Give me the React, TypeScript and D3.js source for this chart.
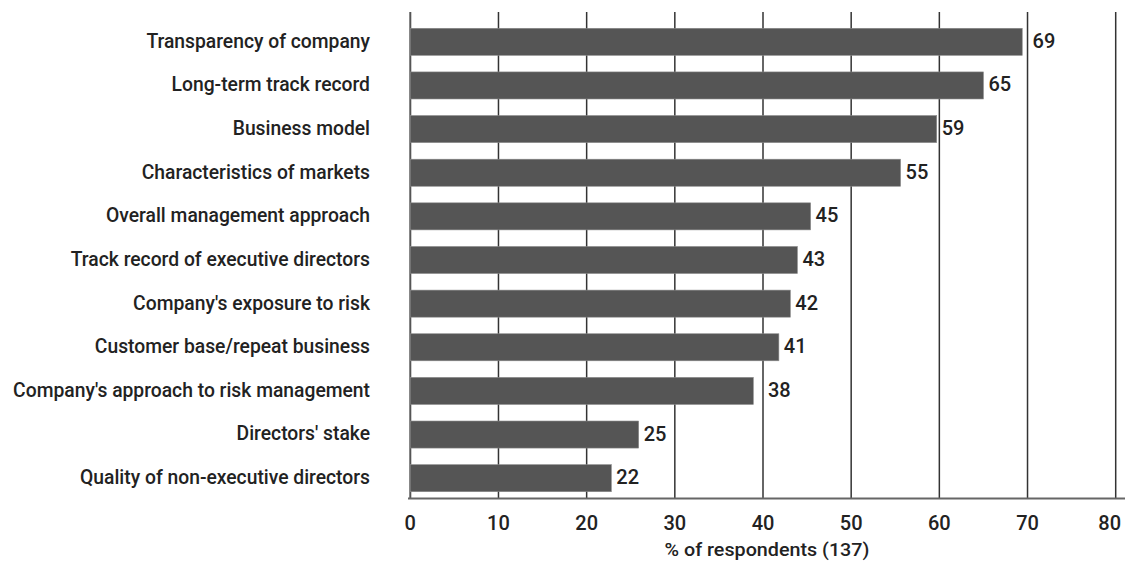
import { useEffect, useRef } from 'react';
import * as d3 from 'd3';

const categories = [
  'Transparency of company',
  'Long-term track record',
  'Business model',
  'Characteristics of markets',
  'Overall management approach',
  'Track record of executive directors',
  "Company's exposure to risk",
  'Customer base/repeat business',
  "Company's approach to risk management",
  "Directors' stake",
  'Quality of non-executive directors',
];

// bar lengths (share of 137 respondents)
const values = [69.4, 65.0, 59.7, 55.6, 45.4, 43.9, 43.1, 41.8, 38.9, 25.9, 22.8];
// printed labels
const valueLabels = ['69', '65', '59', '55', '45', '43', '42', '41', '38', '25', '22'];

const xTicks = [0, 10, 20, 30, 40, 50, 60, 70, 80];
const xTitle = '% of respondents (137)';

const FONT = 'Roboto, "Liberation Sans", sans-serif';

export default function App() {
  const svgRef = useRef<SVGSVGElement>(null);
  const width = 1125;
  const height = 562;

  useEffect(() => {
    if (!svgRef.current) return;
    const svg = d3.select(svgRef.current);
    svg.selectAll('*').remove();

    const x = d3.scaleLinear().domain([0, 80]).range([410.3, 1115.7]);
    const y = d3
      .scaleBand<string>()
      .domain(categories)
      .range([20, 500])
      .paddingInner(0.38)
      .paddingOuter(0.19);

    const gridTop = 12;
    const axisY = 498.5;

    // Grid
    svg
      .append('g')
      .selectAll('line')
      .data(xTicks)
      .join('line')
      .attr('x1', (d) => x(d))
      .attr('x2', (d) => x(d))
      .attr('y1', gridTop)
      .attr('y2', axisY)
      .attr('stroke', (d) => (d === 0 ? '#555' : '#333'))
      .attr('stroke-width', (d) => (d === 0 ? 2 : 1.5));

    // Bars
    svg
      .append('g')
      .selectAll('rect')
      .data(values)
      .join('rect')
      .attr('x', x(0))
      .attr('y', (_, i) => y(categories[i])!)
      .attr('width', (d) => x(d) - x(0))
      .attr('height', y.bandwidth())
      .attr('fill', '#555555')
      .attr('stroke', '#8a8a8a')
      .attr('stroke-width', 0.6);

    // Value labels, nudged past gridlines
    svg
      .append('g')
      .selectAll('text')
      .data(values)
      .join('text')
      .attr('x', (d) => {
        let lx = x(d) + 5;
        const w = 20;
        xTicks.forEach((t) => {
          const gx = x(t);
          if (gx >= lx - 2 && gx <= lx + w) lx = gx + 5;
        });
        return lx;
      })
      .attr('y', (_, i) => y(categories[i])! + y.bandwidth() / 2)
      .attr('dy', '0.3em')
      .attr('font-family', FONT)
      .attr('font-weight', 500)
      .attr('font-size', 20)
      .attr('fill', '#222')
      .text((_, i) => valueLabels[i]);

    // Category labels, squeezed to the condensed look of the original
    const catG = svg.append('g');
    const cats = catG
      .selectAll('text')
      .data(categories)
      .join('text')
      .attr('x', 0)
      .attr('y', (d) => y(d)! + y.bandwidth() / 2)
      .attr('dy', '0.28em')
      .attr('text-anchor', 'end')
      .attr('font-family', FONT)
      .attr('font-weight', 500)
      .attr('font-size', 21)
      .attr('fill', '#222')
      .text((d) => d);
    let widest = 1;
    cats.each(function () {
      widest = Math.max(widest, (this as SVGTextElement).getComputedTextLength());
    });
    catG.attr('transform', `translate(370,0) scale(${357 / widest},1)`);

    // X axis line
    svg
      .append('line')
      .attr('x1', 408)
      .attr('x2', width)
      .attr('y1', axisY)
      .attr('y2', axisY)
      .attr('stroke', '#666')
      .attr('stroke-width', 2);

    // Tick labels
    svg
      .append('g')
      .selectAll('text')
      .data(xTicks)
      .join('text')
      .attr('x', (d) => x(d))
      .attr('y', 530)
      .attr('text-anchor', 'middle')
      .attr('font-family', FONT)
      .attr('font-weight', 500)
      .attr('font-size', 20)
      .attr('fill', '#222')
      .text((d) => `${d}`)
      .each(function (d) {
        const t = this as SVGTextElement;
        const w = t.getComputedTextLength();
        if (x(d) + w / 2 > width - 3) {
          d3.select(t).attr('text-anchor', 'end').attr('x', width - 4);
        }
      });

    const titleG = svg.append('g');
    const title = titleG
      .append('text')
      .attr('x', 0)
      .attr('y', 556)
      .attr('text-anchor', 'middle')
      .attr('font-family', FONT)
      .attr('font-weight', 500)
      .attr('font-size', 19)
      .attr('fill', '#222')
      .text(xTitle);
    const tw = (title.node() as SVGTextElement).getComputedTextLength();
    titleG.attr('transform', `translate(767,0) scale(${205 / tw},1)`);
  }, []);

  return (
    <svg
      ref={svgRef}
      width={width}
      height={height}
      style={{ position: 'absolute', left: 0, top: 0, background: '#fff' }}
    />
  );
}
